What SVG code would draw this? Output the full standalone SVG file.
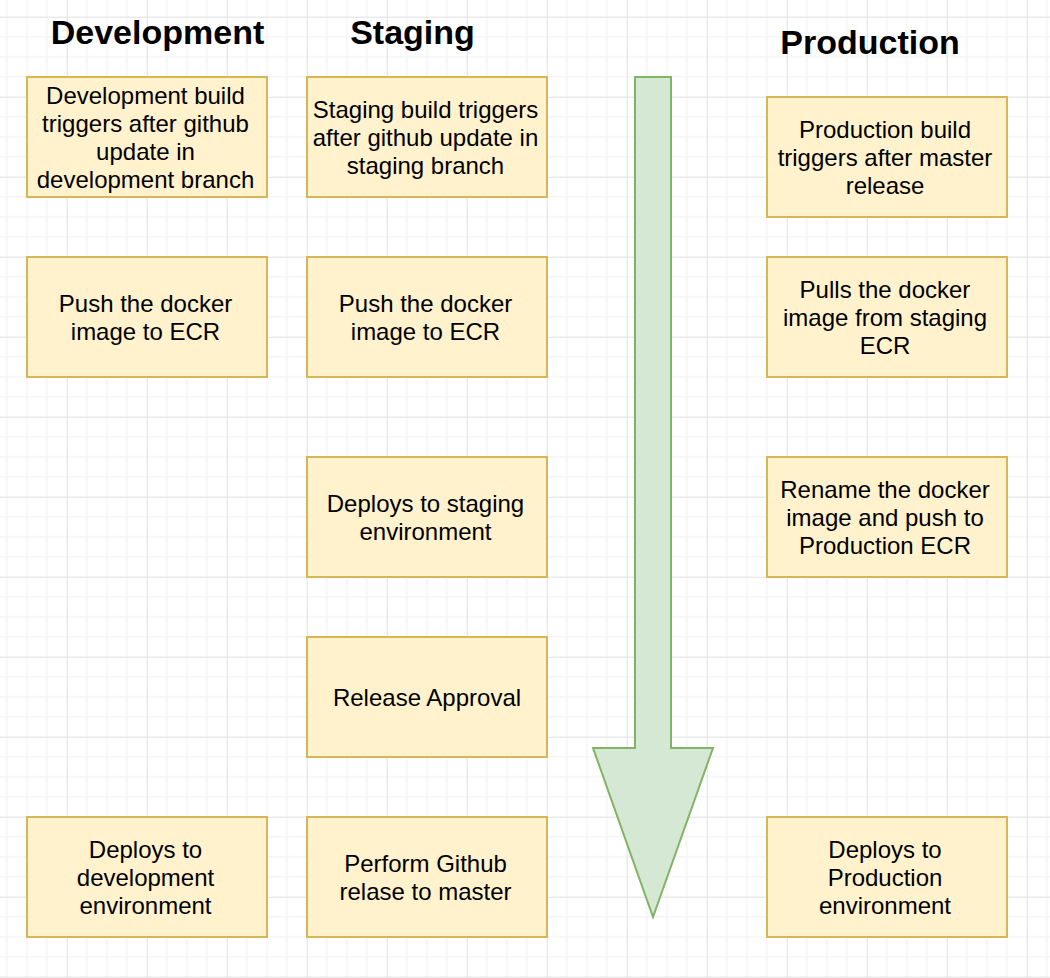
<svg xmlns="http://www.w3.org/2000/svg" width="1050" height="978" viewBox="0 0 1050 978">
<style>
.box{fill:#fff2cc;stroke:#d6b656;stroke-width:2}
.t{font-family:"Liberation Sans",Arial,sans-serif;font-size:24px;fill:#000;text-anchor:middle}
.h{font-family:"Liberation Sans",Arial,sans-serif;font-size:34px;font-weight:bold;fill:#000;text-anchor:middle}
.arrow{fill:#d5e8d4;stroke:#82b366;stroke-width:2}
</style>
<defs>
<pattern id="grid" patternUnits="userSpaceOnUse" x="-13.3" y="16.7" width="80" height="80">
<g stroke="#f4f4f4" stroke-width="1.5" fill="none">
<line x1="20" y1="0" x2="20" y2="80"/><line x1="40" y1="0" x2="40" y2="80"/><line x1="60" y1="0" x2="60" y2="80"/>
<line x1="0" y1="20" x2="80" y2="20"/><line x1="0" y1="40" x2="80" y2="40"/><line x1="0" y1="60" x2="80" y2="60"/>
</g>
<g stroke="#e0e0e0" stroke-width="1" fill="none">
<line x1="0.5" y1="0" x2="0.5" y2="80"/><line x1="0" y1="0.5" x2="80" y2="0.5"/>
</g>
</pattern>
</defs>
<rect x="0" y="0" width="1050" height="978" fill="#ffffff"/>
<rect x="0" y="0" width="1050" height="978" fill="url(#grid)"/>

<g id="titles">
<text class="h" x="157.5" y="44">Development</text>
<text class="h" x="412.5" y="44">Staging</text>
<text class="h" x="870" y="54">Production</text>
</g>

<g id="connectors">
<polygon class="arrow" points="635,77 671,77 671,748 713,748 653,917 593,748 635,748"/>
</g>

<g id="dev1"><rect class="box" x="27" y="77" width="240" height="120"/>
<text class="t" x="145.5" y="104">Development build</text><text class="t" x="145.5" y="132">triggers after github</text><text class="t" x="145.5" y="160">update in</text><text class="t" x="145.5" y="188">development branch</text></g>
<g id="dev2"><rect class="box" x="27" y="257" width="240" height="120"/>
<text class="t" x="145.5" y="312">Push the docker</text><text class="t" x="145.5" y="340">image to ECR</text></g>
<g id="dev3"><rect class="box" x="27" y="817" width="240" height="120"/>
<text class="t" x="145.5" y="858">Deploys to</text><text class="t" x="145.5" y="886">development</text><text class="t" x="145.5" y="914">environment</text></g>

<g id="stg1"><rect class="box" x="307" y="77" width="240" height="120"/>
<text class="t" x="425.5" y="118">Staging build triggers</text><text class="t" x="425.5" y="146">after github update in</text><text class="t" x="425.5" y="174">staging branch</text></g>
<g id="stg2"><rect class="box" x="307" y="257" width="240" height="120"/>
<text class="t" x="425.5" y="312">Push the docker</text><text class="t" x="425.5" y="340">image to ECR</text></g>
<g id="stg3"><rect class="box" x="307" y="457" width="240" height="120"/>
<text class="t" x="425.5" y="512">Deploys to staging</text><text class="t" x="425.5" y="540">environment</text></g>
<g id="stg4"><rect class="box" x="307" y="637" width="240" height="120"/>
<text class="t" x="427" y="706">Release Approval</text></g>
<g id="stg5"><rect class="box" x="307" y="817" width="240" height="120"/>
<text class="t" x="425.5" y="872">Perform Github</text><text class="t" x="425.5" y="900">relase to master</text></g>

<g id="prd1"><rect class="box" x="767" y="97" width="240" height="120"/>
<text class="t" x="885" y="138">Production build</text><text class="t" x="885" y="166">triggers after master</text><text class="t" x="885" y="194">release</text></g>
<g id="prd2"><rect class="box" x="767" y="257" width="240" height="120"/>
<text class="t" x="885" y="298">Pulls the docker</text><text class="t" x="885" y="326">image from staging</text><text class="t" x="885" y="354">ECR</text></g>
<g id="prd3"><rect class="box" x="767" y="457" width="240" height="120"/>
<text class="t" x="885" y="498">Rename the docker</text><text class="t" x="885" y="526">image and push to</text><text class="t" x="885" y="554">Production ECR</text></g>
<g id="prd4"><rect class="box" x="767" y="817" width="240" height="120"/>
<text class="t" x="885" y="858">Deploys to</text><text class="t" x="885" y="886">Production</text><text class="t" x="885" y="914">environment</text></g>
</svg>
